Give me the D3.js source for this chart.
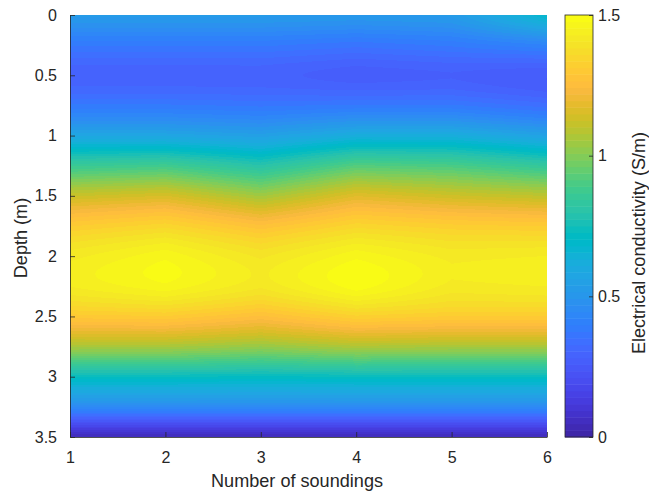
<!DOCTYPE html>
<html>
<head>
<meta charset="utf-8">
<script src="https://cdn.jsdelivr.net/npm/d3@7"></script>
<style>
  html, body { margin: 0; padding: 0; background: #fff; }
  svg { display: block; font-family: "Liberation Sans", Arial, Helvetica, sans-serif; }
</style>
</head>
<body>
<div id="chart"></div>
<script>
// sounding positions and depth layers (m)
const SOUNDINGS = [1, 2, 3, 4, 5, 6];
const DEPTHS = [0, 0.25, 0.5, 0.75, 1, 1.25, 1.5, 1.75, 2, 2.25, 2.5, 2.75, 3, 3.25, 3.5];

// electrical conductivity (S/m) per sounding, one value per depth layer
const EC_S1 = [0.52, 0.38, 0.29, 0.38, 0.58, 0.86, 1.12, 1.31, 1.42, 1.43, 1.30, 1.06, 0.73, 0.45, 0.05];
const EC_S2 = [0.52, 0.38, 0.29, 0.38, 0.58, 0.88, 1.15, 1.35, 1.47, 1.47, 1.31, 1.06, 0.73, 0.45, 0.05];
const EC_S3 = [0.52, 0.38, 0.29, 0.37, 0.55, 0.80, 1.05, 1.27, 1.40, 1.41, 1.26, 1.03, 0.72, 0.45, 0.05];
const EC_S4 = [0.51, 0.36, 0.27, 0.38, 0.62, 0.92, 1.17, 1.35, 1.47, 1.49, 1.33, 1.07, 0.73, 0.45, 0.05];
const EC_S5 = [0.52, 0.38, 0.28, 0.38, 0.62, 0.90, 1.13, 1.32, 1.42, 1.42, 1.31, 1.06, 0.73, 0.45, 0.05];
const EC_S6 = [0.68, 0.42, 0.26, 0.34, 0.56, 0.84, 1.10, 1.31, 1.43, 1.43, 1.31, 1.06, 0.73, 0.45, 0.05];
const EC = [EC_S1, EC_S2, EC_S3, EC_S4, EC_S5, EC_S6];

const X_TICKS = [1, 2, 3, 4, 5, 6];
const Y_TICKS = [0, 0.5, 1, 1.5, 2, 2.5, 3, 3.5];
const C_TICKS = [0, 0.5, 1, 1.5];

// parula, 64 entries
const PARULA = [
  [0.2422,0.1504,0.6603],[0.2504,0.1650,0.7076],[0.2578,0.1818,0.7511],[0.2647,0.1978,0.7952],
  [0.2706,0.2147,0.8364],[0.2751,0.2342,0.8710],[0.2783,0.2559,0.8991],[0.2803,0.2782,0.9221],
  [0.2813,0.3006,0.9414],[0.2810,0.3228,0.9579],[0.2795,0.3447,0.9717],[0.2760,0.3667,0.9829],
  [0.2699,0.3892,0.9906],[0.2602,0.4123,0.9952],[0.2440,0.4358,0.9988],[0.2206,0.4603,0.9973],
  [0.1963,0.4847,0.9892],[0.1834,0.5074,0.9798],[0.1786,0.5289,0.9682],[0.1764,0.5499,0.9520],
  [0.1687,0.5703,0.9359],[0.1540,0.5902,0.9218],[0.1460,0.6091,0.9079],[0.1380,0.6276,0.8973],
  [0.1248,0.6459,0.8883],[0.1113,0.6635,0.8763],[0.0952,0.6798,0.8598],[0.0689,0.6948,0.8394],
  [0.0297,0.7082,0.8163],[0.0036,0.7203,0.7917],[0.0067,0.7312,0.7660],[0.0433,0.7411,0.7394],
  [0.0964,0.7500,0.7120],[0.1408,0.7584,0.6842],[0.1717,0.7670,0.6554],[0.1938,0.7758,0.6251],
  [0.2161,0.7843,0.5923],[0.2470,0.7918,0.5567],[0.2906,0.7973,0.5188],[0.3406,0.8008,0.4789],
  [0.3909,0.8029,0.4354],[0.4456,0.8024,0.3909],[0.5044,0.7993,0.3480],[0.5616,0.7942,0.3045],
  [0.6174,0.7876,0.2612],[0.6720,0.7793,0.2227],[0.7242,0.7698,0.1910],[0.7738,0.7598,0.1646],
  [0.8203,0.7498,0.1535],[0.8634,0.7406,0.1596],[0.9035,0.7330,0.1774],[0.9393,0.7288,0.2100],
  [0.9728,0.7298,0.2394],[0.9956,0.7434,0.2371],[0.9970,0.7659,0.2199],[0.9952,0.7893,0.2028],
  [0.9892,0.8136,0.1885],[0.9786,0.8386,0.1766],[0.9676,0.8639,0.1643],[0.9610,0.8890,0.1537],
  [0.9597,0.9135,0.1423],[0.9628,0.9373,0.1265],[0.9691,0.9606,0.1064],[0.9769,0.9839,0.0805]
].map(c => d3.rgb(c[0] * 255, c[1] * 255, c[2] * 255));

const W = 649, H = 492;
const plot = { left: 70, right: 547, top: 15, bottom: 437 };
const cbar = { left: 565, right: 593 };
const INK = "#262626";

const svg = d3.select("#chart").append("svg")
  .attr("width", W).attr("height", H)
  .attr("viewBox", `0 0 ${W} ${H}`);

const x = d3.scaleLinear().domain([1, 6]).range([plot.left, plot.right]);
const y = d3.scaleLinear().domain([0, 3.5]).range([plot.top, plot.bottom]);
const color = d3.scaleQuantize().domain([0, 1.5]).range(PARULA);

/* value at (sounding, depth): Catmull-Rom along depth, linear across soundings */
function columnAt(col, d) {
  const n = DEPTHS.length;
  let j = Math.min(n - 2, Math.max(0, d3.bisectRight(DEPTHS, d) - 1));
  const t = (d - DEPTHS[j]) / (DEPTHS[j + 1] - DEPTHS[j]);
  const p0 = col[Math.max(0, j - 1)], p1 = col[j], p2 = col[j + 1], p3 = col[Math.min(n - 1, j + 2)];
  return 0.5 * ((2 * p1) + (-p0 + p2) * t + (2 * p0 - 5 * p1 + 4 * p2 - p3) * t * t +
    (-p0 + 3 * p1 - 3 * p2 + p3) * t * t * t);
}
function valueAt(s, d) {
  const i = Math.min(SOUNDINGS.length - 2, Math.max(0, d3.bisectRight(SOUNDINGS, s) - 1));
  const f = (s - SOUNDINGS[i]) / (SOUNDINGS[i + 1] - SOUNDINGS[i]);
  return columnAt(EC[i], d) * (1 - f) + columnAt(EC[i + 1], d) * f;
}

/* heatmap raster */
const pw = plot.right - plot.left, ph = plot.bottom - plot.top;
const canvas = document.createElement("canvas");
canvas.width = pw; canvas.height = ph;
const ctx = canvas.getContext("2d");
const img = ctx.createImageData(pw, ph);
for (let py = 0; py < ph; py++) {
  const d = y.invert(plot.top + py + 0.5);
  for (let px = 0; px < pw; px++) {
    const s = x.invert(plot.left + px + 0.5);
    const c = color(valueAt(s, d));
    const k = (py * pw + px) * 4;
    img.data[k] = c.r; img.data[k + 1] = c.g; img.data[k + 2] = c.b; img.data[k + 3] = 255;
  }
}
ctx.putImageData(img, 0, 0);
svg.append("image")
  .attr("x", plot.left).attr("y", plot.top)
  .attr("width", pw).attr("height", ph)
  .attr("preserveAspectRatio", "none")
  .attr("href", canvas.toDataURL());

/* axes */
const xAxis = svg.append("g").attr("transform", `translate(0,${plot.bottom})`)
  .call(d3.axisBottom(x).tickValues(X_TICKS).tickFormat(d3.format("d"))
    .tickSizeInner(-5).tickSizeOuter(0).tickPadding(15));
const yAxis = svg.append("g").attr("transform", `translate(${plot.left},0)`)
  .call(d3.axisLeft(y).tickValues(Y_TICKS).tickFormat(d => String(d))
    .tickSizeInner(-5).tickSizeOuter(0).tickPadding(13));
[xAxis, yAxis].forEach(a => {
  a.select(".domain").attr("stroke", INK).attr("stroke-width", 0.8);
  a.selectAll(".tick line").attr("stroke", INK).attr("stroke-width", 0.8);
  a.selectAll(".tick text").attr("fill", INK).style("font-size", "16px");
});

svg.append("text")
  .attr("x", 297).attr("y", 487)
  .attr("text-anchor", "middle").attr("fill", INK).style("font-size", "18.1px")
  .text("Number of soundings");

svg.append("text")
  .attr("transform", "translate(27,238) rotate(-90)")
  .attr("text-anchor", "middle").attr("fill", INK).style("font-size", "18.1px")
  .text("Depth (m)");

/* colorbar */
const cy = d3.scaleLinear().domain([0, 1.5]).range([plot.bottom, plot.top]);
const step = 1.5 / PARULA.length;
svg.append("g").selectAll("rect").data(PARULA).enter().append("rect")
  .attr("x", cbar.left).attr("width", cbar.right - cbar.left)
  .attr("y", (c, i) => cy((i + 1) * step))
  .attr("height", (c, i) => cy(i * step) - cy((i + 1) * step) + 0.5)
  .attr("fill", c => c);
svg.append("rect")
  .attr("x", cbar.left).attr("y", plot.top)
  .attr("width", cbar.right - cbar.left).attr("height", plot.bottom - plot.top)
  .attr("fill", "none").attr("stroke", INK).attr("stroke-width", 0.8);

const cAxis = svg.append("g").attr("transform", `translate(${cbar.right},0)`)
  .call(d3.axisRight(cy).tickValues(C_TICKS).tickFormat(d => String(d))
    .tickSizeInner(-4).tickSizeOuter(0).tickPadding(5));
cAxis.select(".domain").remove();
cAxis.selectAll(".tick line").attr("stroke", INK).attr("stroke-width", 0.8);
cAxis.selectAll(".tick text").attr("fill", INK).style("font-size", "16px");

svg.append("text")
  .attr("transform", "translate(645,243) rotate(-90)")
  .attr("text-anchor", "middle").attr("fill", INK).style("font-size", "18.1px")
  .text("Electrical conductivity (S/m)");
</script>
</body>
</html>
